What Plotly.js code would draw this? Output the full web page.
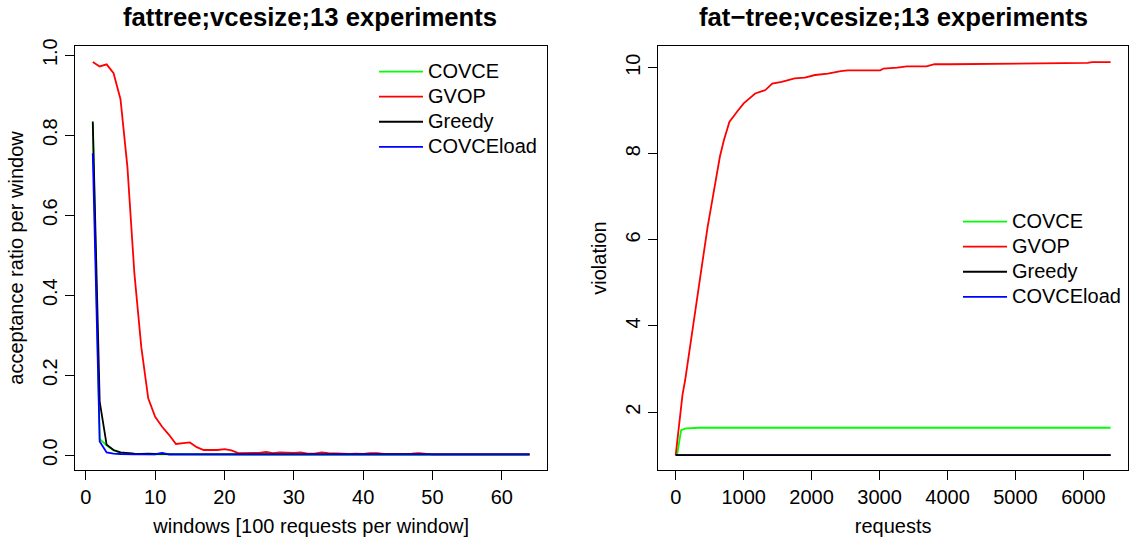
<!DOCTYPE html>
<html>
<head>
<meta charset="utf-8">
<script src="https://cdn.plot.ly/plotly-3.0.1.min.js"></script>
<style>html,body{margin:0;padding:0;background:#fff;}#chart{width:1139px;height:545px;}</style>
</head>
<body>
<div id="chart"></div>
<script>
// ---- Left panel: acceptance ratio per window (windows 1..64)
const windows = Array.from({length: 64}, (_, i) => i + 1);
const accCOVCE = [0.830,0.040,0.025,0.012,0.006,0.004,0.003,0.003,0.002,0.002,0.003,0.002,0.002,0.002,0.002,0.002,0.002,0.002,0.002,0.002,0.002,0.002,0.002,0.002,0.001,0.001,0.001,0.001,0.001,0.001,0.001,0.001,0.001,0.001,0.001,0.001,0.001,0.001,0.001,0.001,0.001,0.001,0.001,0.001,0.001,0.001,0.001,0.001,0.001,0.001,0.001,0.001,0.001,0.001,0.001,0.001,0.001,0.001,0.001,0.001,0.001,0.001,0.001,0.001];
const accGVOP = [0.983,0.972,0.977,0.955,0.890,0.720,0.455,0.270,0.142,0.096,0.071,0.051,0.028,0.030,0.032,0.020,0.013,0.013,0.013,0.015,0.012,0.005,0.005,0.006,0.006,0.008,0.005,0.007,0.006,0.006,0.007,0.004,0.004,0.007,0.005,0.004,0.004,0.003,0.004,0.003,0.005,0.005,0.003,0.003,0.003,0.003,0.004,0.005,0.003,0.002,0.002,0.002,0.003,0.002,0.002,0.002,0.002,0.002,0.002,0.002,0.002,0.002,0.002,0.002];
const accGreedy = [0.834,0.134,0.026,0.013,0.007,0.005,0.004,0.003,0.004,0.003,0.004,0.002,0.002,0.002,0.002,0.002,0.002,0.002,0.002,0.002,0.002,0.002,0.002,0.002,0.002,0.002,0.002,0.002,0.002,0.002,0.002,0.002,0.002,0.002,0.002,0.002,0.002,0.002,0.002,0.002,0.002,0.002,0.002,0.002,0.002,0.002,0.002,0.002,0.002,0.002,0.002,0.002,0.002,0.002,0.002,0.002,0.002,0.002,0.002,0.002,0.002,0.002,0.002,0.002];
const accCOVCEload = [0.755,0.034,0.007,0.004,0.003,0.002,0.002,0.002,0.002,0.002,0.006,0.002,0.002,0.002,0.002,0.002,0.002,0.002,0.002,0.002,0.002,0.002,0.002,0.002,0.002,0.002,0.002,0.002,0.002,0.002,0.002,0.002,0.002,0.002,0.002,0.002,0.002,0.002,0.002,0.002,0.002,0.002,0.002,0.002,0.002,0.002,0.002,0.002,0.002,0.002,0.002,0.002,0.002,0.002,0.002,0.002,0.002,0.002,0.002,0.002,0.002,0.002,0.002,0.002];

// ---- Right panel: violation vs requests
const reqGVOP = [0,60,100,140,180,230,300,390,470,530,590,650,710,790,900,1000,1170,1320,1420,1560,1750,1900,2050,2240,2430,2530,3010,3060,3260,3400,3690,3810,4030,5440,5480,6060,6130,6400];
const violGVOP = [1.0,1.80,2.40,2.75,3.20,3.75,4.45,5.45,6.30,6.85,7.40,7.93,8.32,8.74,8.97,9.17,9.40,9.48,9.63,9.67,9.75,9.77,9.83,9.86,9.92,9.94,9.94,9.98,10.00,10.03,10.03,10.08,10.08,10.10,10.11,10.11,10.13,10.13];
const reqCOVCE = [0,20,80,150,350,6400];
const violCOVCE = [1.0,1.0,1.58,1.62,1.636,1.636];
const reqGreedy = [0,6400];
const violGreedy = [1.0,1.0];
const reqCOVCEload = [0,6400];
const violCOVCEload = [1.0,1.0];

const colors = {COVCE:'#00ff00', GVOP:'#ff0000', Greedy:'#000000', COVCEload:'#0000ff'};
const leftTitle = 'fattree;vcesize;13 experiments';
const rightTitle = 'fat\u2212tree;vcesize;13 experiments';

const FONT = 'Liberation Sans, Arial, Helvetica, sans-serif';
const W = 1139, H = 545;

function tr(x, y, name, xa, ya, leg, rank) {
  return {x: x, y: y, type: 'scatter', mode: 'lines',
    name: '<span style="font-size:20px">' + name + '</span>',
    line: {color: colors[name], width: 1.8}, xaxis: xa, yaxis: ya, legend: leg,
    legendrank: rank, hoverinfo: 'x+y'};
}

const data = [
  tr(windows, accCOVCE, 'COVCE', 'x', 'y', 'legend', 1),
  tr(windows, accGVOP, 'GVOP', 'x', 'y', 'legend', 2),
  tr(windows, accGreedy, 'Greedy', 'x', 'y', 'legend', 3),
  tr(windows, accCOVCEload, 'COVCEload', 'x', 'y', 'legend', 4),
  tr(reqCOVCE, violCOVCE, 'COVCE', 'x2', 'y2', 'legend2', 1),
  tr(reqGVOP, violGVOP, 'GVOP', 'x2', 'y2', 'legend2', 2),
  tr(reqCOVCEload, violCOVCEload, 'COVCEload', 'x2', 'y2', 'legend2', 4),
  tr(reqGreedy, violGreedy, 'Greedy', 'x2', 'y2', 'legend2', 3)
];

const axBase = {showline: true, mirror: true, linecolor: '#000', linewidth: 1,
  ticks: 'outside', ticklen: 9, tickcolor: '#000', tickwidth: 1,
  showgrid: false, zeroline: false, tickfont: {family: FONT, size: 20, color: '#000'}};

const yDom = [1 - 470/H, 1 - 46/H];
const layout = {
  width: W, height: H, margin: {l: 0, r: 0, t: 0, b: 0},
  paper_bgcolor: '#fff', plot_bgcolor: '#fff', font: {family: FONT, color: '#000'},
  xaxis: Object.assign({}, axBase, {domain: [75.3/W, 547/W], range: [-1.52, 66.52],
    tickmode: 'array', tickvals: [0,10,20,30,40,50,60],
    title: {text: 'windows [100 requests per window]', font: {family: FONT, size: 20}, standoff: 11}}),
  yaxis: Object.assign({}, axBase, {domain: yDom, range: [-0.037, 1.023],
    tickmode: 'array', tickvals: [0,0.2,0.4,0.6,0.8,1.0], tickformat: '.1f', tickangle: -90,
    title: {text: 'acceptance ratio per window', font: {family: FONT, size: 20}, standoff: 10}}),
  xaxis2: Object.assign({}, axBase, {domain: [658.3/W, 1128/W], range: [-256, 6656], anchor: 'y2',
    tickmode: 'array', tickvals: [0,1000,2000,3000,4000,5000,6000],
    title: {text: 'requests', font: {family: FONT, size: 20}, standoff: 11}}),
  yaxis2: Object.assign({}, axBase, {domain: yDom, range: [0.654, 10.504], anchor: 'x2',
    tickmode: 'array', tickvals: [2,4,6,8,10], tickangle: -90,
    title: {text: 'violation', font: {family: FONT, size: 20}, standoff: 10}}),
  legend: {x: 374/W, y: 1 - 54/H, xanchor: 'left', yanchor: 'top', bgcolor: 'rgba(0,0,0,0)',
    borderwidth: 0, itemwidth: 44, font: {family: FONT, size: 17}, traceorder: 'normal', tracegroupgap: 0},
  legend2: {x: 958/W, y: 1 - 204/H, xanchor: 'left', yanchor: 'top', bgcolor: 'rgba(0,0,0,0)',
    borderwidth: 0, itemwidth: 44, font: {family: FONT, size: 17}, traceorder: 'normal', tracegroupgap: 0},
  showlegend: true,
  annotations: [
    {text: '<b>' + leftTitle + '</b>', xref: 'paper', yref: 'paper', x: 310/W, y: 1 - 17/H,
     xanchor: 'center', yanchor: 'middle', showarrow: false, font: {family: FONT, size: 25.7, color: '#000'}},
    {text: '<b>' + rightTitle + '</b>', xref: 'paper', yref: 'paper', x: 893/W, y: 1 - 17/H,
     xanchor: 'center', yanchor: 'middle', showarrow: false, font: {family: FONT, size: 25.7, color: '#000'}}
  ]
};

Plotly.newPlot('chart', data, layout, {displayModeBar: false, staticPlot: true});
</script>
</body>
</html>
